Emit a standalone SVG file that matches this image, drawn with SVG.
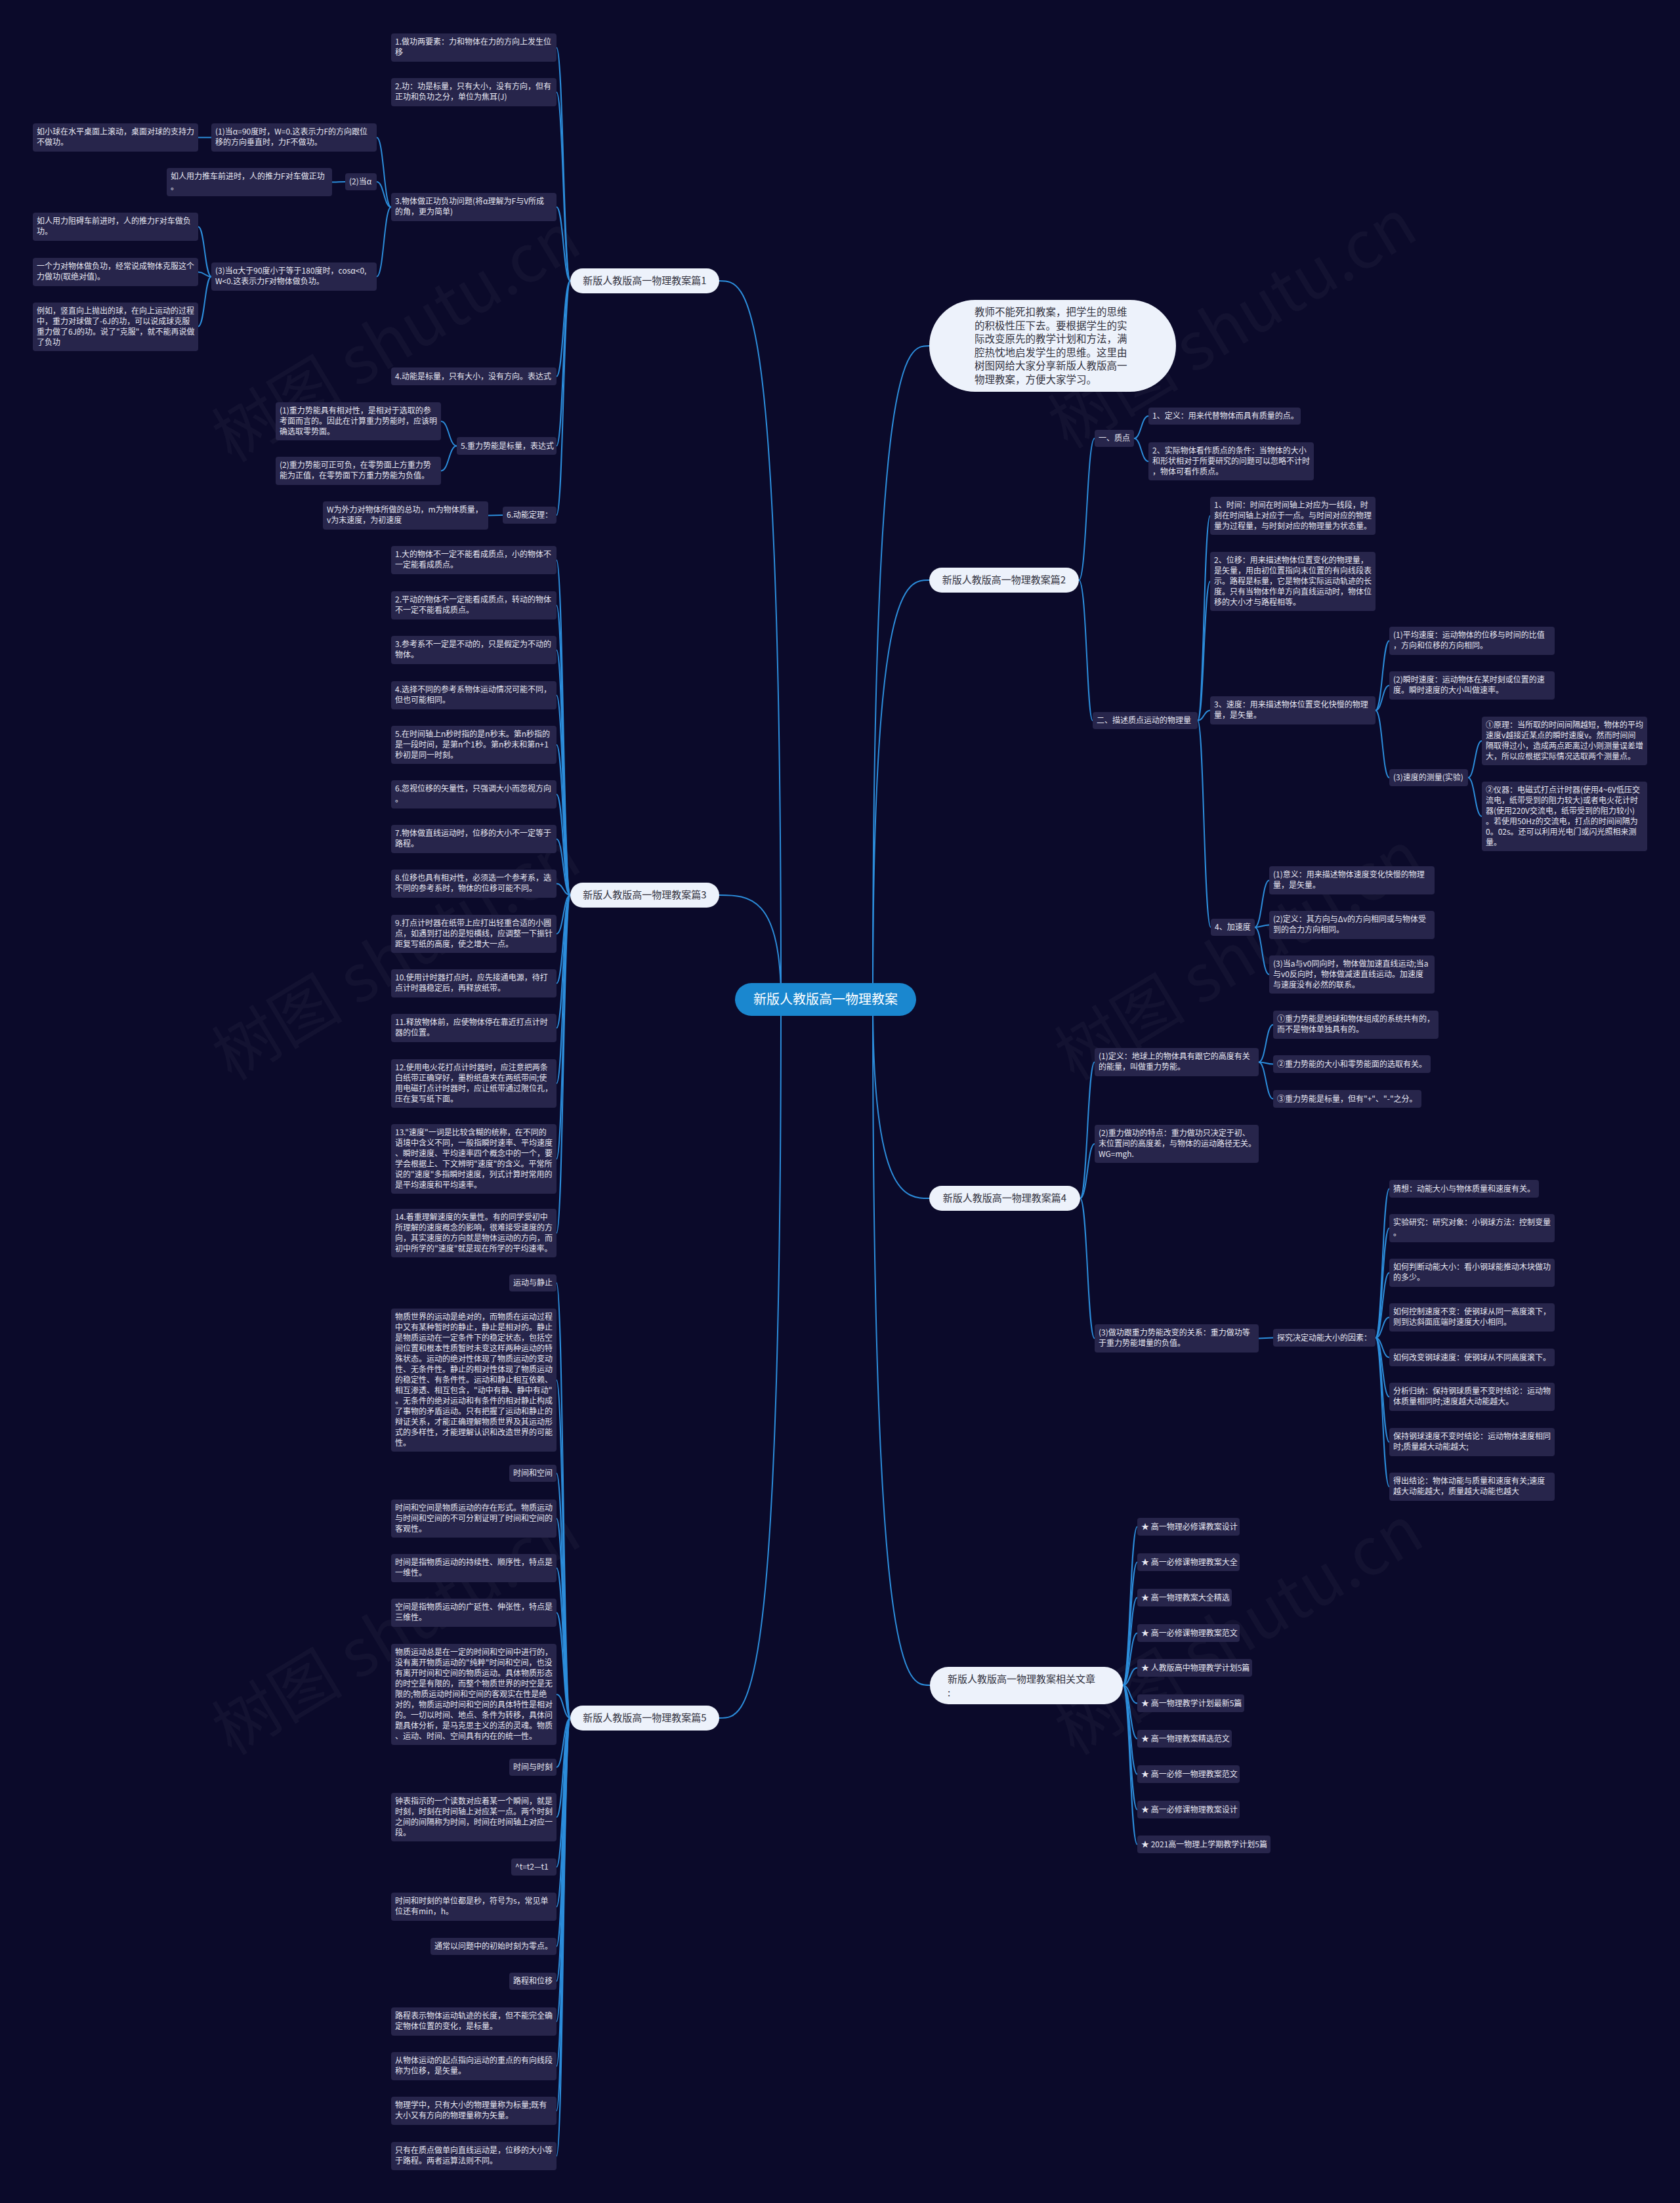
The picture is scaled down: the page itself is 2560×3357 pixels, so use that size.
<svg xmlns="http://www.w3.org/2000/svg" width="2560" height="3357" viewBox="0 0 2560 3357">
<style>
.bg{fill:#0b0a2a}
.b{fill:#27254b}
.t{font-family:"Noto Sans CJK SC","Noto Sans",sans-serif;font-size:12px;fill:#e8e8f2}
.n1{fill:#edf2fb}
.t1{font-family:"Noto Sans CJK SC","Noto Sans",sans-serif;font-size:15px;fill:#33333f}
.ct{font-family:"Noto Sans CJK SC","Noto Sans",sans-serif;font-size:20px;fill:#ffffff}
.c{fill:none;stroke:#2c8ddb;stroke-width:2}
.wm{font-family:"Noto Sans CJK SC","Liberation Serif",serif;font-size:100px;fill:#ffffff;fill-opacity:0.035}
</style>
<rect class="bg" x="0" y="0" width="2560" height="3357"/>
<g id="watermarks">
<text class="wm" x="353" y="706" transform="rotate(-31 353 706)">树图 shutu.cn</text>
<text class="wm" x="1627" y="685" transform="rotate(-31 1627 685)">树图 shutu.cn</text>
<text class="wm" x="353" y="1648" transform="rotate(-31 353 1648)">树图 shutu.cn</text>
<text class="wm" x="1637" y="1648" transform="rotate(-31 1637 1648)">树图 shutu.cn</text>
<text class="wm" x="353" y="2676" transform="rotate(-31 353 2676)">树图 shutu.cn</text>
<text class="wm" x="1637" y="2676" transform="rotate(-31 1637 2676)">树图 shutu.cn</text>
</g>
<g id="connectors">
<path class="c" d="M1190 1523 C1190 428 1140 428 1096 428"/>
<path class="c" d="M1190 1523 C1190 1364 1140 1364 1096 1364"/>
<path class="c" d="M1190 1523 C1190 2618 1140 2618 1096 2618"/>
<path class="c" d="M1330 1523 C1330 527 1380 527 1416 527"/>
<path class="c" d="M1330 1523 C1330 884 1380 884 1416 884"/>
<path class="c" d="M1330 1523 C1330 1826 1380 1826 1416 1826"/>
<path class="c" d="M1330 1523 C1330 2568 1380 2568 1417 2568"/>
<path class="c" d="M848 72.5 C858.5 72.5 858.5 428 869 428"/>
<path class="c" d="M848 140.5 C858.5 140.5 858.5 428 869 428"/>
<path class="c" d="M848 315.5 C858.5 315.5 858.5 428 869 428"/>
<path class="c" d="M848 573.5 C858.5 573.5 858.5 428 869 428"/>
<path class="c" d="M848 679.5 C858.5 679.5 858.5 428 869 428"/>
<path class="c" d="M848 785 C858.5 785 858.5 428 869 428"/>
<path class="c" d="M574 209.5 C585 209.5 585 315.5 596 315.5"/>
<path class="c" d="M574 277 C585 277 585 315.5 596 315.5"/>
<path class="c" d="M574 421.5 C585 421.5 585 315.5 596 315.5"/>
<path class="c" d="M302 209.5 L322 209.5"/>
<path class="c" d="M506 277.5 C516 277.5 516 277 526 277"/>
<path class="c" d="M302 345.5 C312 345.5 312 421.5 322 421.5"/>
<path class="c" d="M302 414.5 C312 414.5 312 421.5 322 421.5"/>
<path class="c" d="M302 497.5 C312 497.5 312 421.5 322 421.5"/>
<path class="c" d="M672 642 C684 642 684 679.5 696 679.5"/>
<path class="c" d="M672 717.5 C684 717.5 684 679.5 696 679.5"/>
<path class="c" d="M744 785.5 L766 785"/>
<path class="c" d="M848 853.5 C858.5 853.5 858.5 1364 869 1364"/>
<path class="c" d="M848 922.5 C858.5 922.5 858.5 1364 869 1364"/>
<path class="c" d="M848 990.5 C858.5 990.5 858.5 1364 869 1364"/>
<path class="c" d="M848 1059.5 C858.5 1059.5 858.5 1364 869 1364"/>
<path class="c" d="M848 1135 C858.5 1135 858.5 1364 869 1364"/>
<path class="c" d="M848 1210.5 C858.5 1210.5 858.5 1364 869 1364"/>
<path class="c" d="M848 1278.5 C858.5 1278.5 858.5 1364 869 1364"/>
<path class="c" d="M848 1346.5 C858.5 1346.5 858.5 1364 869 1364"/>
<path class="c" d="M848 1423 C858.5 1423 858.5 1364 869 1364"/>
<path class="c" d="M848 1498.5 C858.5 1498.5 858.5 1364 869 1364"/>
<path class="c" d="M848 1566.5 C858.5 1566.5 858.5 1364 869 1364"/>
<path class="c" d="M848 1651 C858.5 1651 858.5 1364 869 1364"/>
<path class="c" d="M848 1766 C858.5 1766 858.5 1364 869 1364"/>
<path class="c" d="M848 1879 C858.5 1879 858.5 1364 869 1364"/>
<path class="c" d="M848 1955 C858.5 1955 858.5 2618 869 2618"/>
<path class="c" d="M848 2103 C858.5 2103 858.5 2618 869 2618"/>
<path class="c" d="M848 2245 C858.5 2245 858.5 2618 869 2618"/>
<path class="c" d="M848 2314 C858.5 2314 858.5 2618 869 2618"/>
<path class="c" d="M848 2389.5 C858.5 2389.5 858.5 2618 869 2618"/>
<path class="c" d="M848 2457.5 C858.5 2457.5 858.5 2618 869 2618"/>
<path class="c" d="M848 2582 C858.5 2582 858.5 2618 869 2618"/>
<path class="c" d="M848 2693 C858.5 2693 858.5 2618 869 2618"/>
<path class="c" d="M848 2769 C858.5 2769 858.5 2618 869 2618"/>
<path class="c" d="M848 2845 C858.5 2845 858.5 2618 869 2618"/>
<path class="c" d="M848 2905.5 C858.5 2905.5 858.5 2618 869 2618"/>
<path class="c" d="M848 2966 C858.5 2966 858.5 2618 869 2618"/>
<path class="c" d="M848 3019 C858.5 3019 858.5 2618 869 2618"/>
<path class="c" d="M848 3080.5 C858.5 3080.5 858.5 2618 869 2618"/>
<path class="c" d="M848 3148.5 C858.5 3148.5 858.5 2618 869 2618"/>
<path class="c" d="M848 3216.5 C858.5 3216.5 858.5 2618 869 2618"/>
<path class="c" d="M848 3285.5 C858.5 3285.5 858.5 2618 869 2618"/>
<path class="c" d="M1644 884 C1656 884 1656 668 1668 668"/>
<path class="c" d="M1644 884 C1656 884 1656 1098 1665 1098"/>
<path class="c" d="M1728 668 C1739 668 1739 634 1750 634"/>
<path class="c" d="M1728 668 C1739 668 1739 703 1750 703"/>
<path class="c" d="M1825 1098 C1834.5 1098 1834.5 786 1844 786"/>
<path class="c" d="M1825 1098 C1834.5 1098 1834.5 886 1844 886"/>
<path class="c" d="M1825 1098 C1834.5 1098 1834.5 1082.5 1844 1082.5"/>
<path class="c" d="M1825 1098 C1834.5 1098 1834.5 1413 1845 1413"/>
<path class="c" d="M2096 1082.5 C2106.5 1082.5 2106.5 976.5 2117 976.5"/>
<path class="c" d="M2096 1082.5 C2106.5 1082.5 2106.5 1044.5 2117 1044.5"/>
<path class="c" d="M2096 1082.5 C2106.5 1082.5 2106.5 1185 2117 1185"/>
<path class="c" d="M2237 1185 C2247.5 1185 2247.5 1129 2258 1129"/>
<path class="c" d="M2237 1185 C2247.5 1185 2247.5 1244 2258 1244"/>
<path class="c" d="M1912 1413 C1923 1413 1923 1341.5 1934 1341.5"/>
<path class="c" d="M1912 1413 C1923 1413 1923 1409.5 1934 1409.5"/>
<path class="c" d="M1912 1413 C1923 1413 1923 1485 1934 1485"/>
<path class="c" d="M1646 1826 C1657 1826 1657 1618.5 1668 1618.5"/>
<path class="c" d="M1646 1826 C1657 1826 1657 1743 1668 1743"/>
<path class="c" d="M1646 1826 C1657 1826 1657 2039.5 1668 2039.5"/>
<path class="c" d="M1918 1618.5 C1929 1618.5 1929 1561.5 1940 1561.5"/>
<path class="c" d="M1918 1618.5 C1929 1618.5 1929 1621.5 1940 1621.5"/>
<path class="c" d="M1918 1618.5 C1929 1618.5 1929 1674.5 1940 1674.5"/>
<path class="c" d="M1918 2039.5 L1940 2038.5"/>
<path class="c" d="M2096 2038.5 C2106.5 2038.5 2106.5 1811.5 2117 1811.5"/>
<path class="c" d="M2096 2038.5 C2106.5 2038.5 2106.5 1871.5 2117 1871.5"/>
<path class="c" d="M2096 2038.5 C2106.5 2038.5 2106.5 1939.5 2117 1939.5"/>
<path class="c" d="M2096 2038.5 C2106.5 2038.5 2106.5 2007.5 2117 2007.5"/>
<path class="c" d="M2096 2038.5 C2106.5 2038.5 2106.5 2068.5 2117 2068.5"/>
<path class="c" d="M2096 2038.5 C2106.5 2038.5 2106.5 2128.5 2117 2128.5"/>
<path class="c" d="M2096 2038.5 C2106.5 2038.5 2106.5 2197.5 2117 2197.5"/>
<path class="c" d="M2096 2038.5 C2106.5 2038.5 2106.5 2265.5 2117 2265.5"/>
<path class="c" d="M1711 2568 C1722 2568 1722 2326.5 1733 2326.5"/>
<path class="c" d="M1711 2568 C1722 2568 1722 2380.5 1733 2380.5"/>
<path class="c" d="M1711 2568 C1722 2568 1722 2434.5 1733 2434.5"/>
<path class="c" d="M1711 2568 C1722 2568 1722 2488.5 1733 2488.5"/>
<path class="c" d="M1711 2568 C1722 2568 1722 2541.5 1733 2541.5"/>
<path class="c" d="M1711 2568 C1722 2568 1722 2595.5 1733 2595.5"/>
<path class="c" d="M1711 2568 C1722 2568 1722 2649.5 1733 2649.5"/>
<path class="c" d="M1711 2568 C1722 2568 1722 2703.5 1733 2703.5"/>
<path class="c" d="M1711 2568 C1722 2568 1722 2757.5 1733 2757.5"/>
<path class="c" d="M1711 2568 C1722 2568 1722 2810.5 1733 2810.5"/>
</g>

<g id="center"><rect x="1120" y="1498" width="276" height="50" rx="25" fill="#1a87cf"/><text class="ct" x="1258" y="1530" text-anchor="middle">新版人教版高一物理教案</text></g>

<g id="p1"><rect class="n1" x="869" y="409" width="227" height="38" rx="19"/><text class="t1" x="982.5" y="433" text-anchor="middle">新版人教版高一物理教案篇1</text></g>
<g id="p1c1"><rect class="b" x="596" y="51" width="252" height="43" rx="4"/><text class="t"><tspan x="602" y="68">1.做功两要素：力和物体在力的方向上发生位</tspan><tspan x="602" y="84">移</tspan></text></g>
<g id="p1c2"><rect class="b" x="596" y="119" width="252" height="43" rx="4"/><text class="t"><tspan x="602" y="136">2.功：功是标量，只有大小，没有方向，但有</tspan><tspan x="602" y="152">正功和负功之分，单位为焦耳(J)</tspan></text></g>
<g id="p1c3"><rect class="b" x="596" y="294" width="252" height="43" rx="4"/><text class="t"><tspan x="602" y="311">3.物体做正功负功问题(将α理解为F与V所成</tspan><tspan x="602" y="327">的角，更为简单)</tspan></text></g>
<g id="p1c4"><rect class="b" x="596" y="560" width="252" height="27" rx="4"/><text class="t"><tspan x="602" y="578">4.动能是标量，只有大小，没有方向。表达式</tspan></text></g>
<g id="p1c5"><rect class="b" x="696" y="666" width="152" height="27" rx="4"/><text class="t"><tspan x="702" y="684">5.重力势能是标量，表达式</tspan></text></g>
<g id="p1c6"><rect class="b" x="766" y="772" width="82" height="26" rx="4"/><text class="t"><tspan x="772" y="789">6.动能定理：</tspan></text></g>
<g id="g31"><rect class="b" x="322" y="188" width="252" height="43" rx="4"/><text class="t"><tspan x="328" y="205">(1)当α=90度时，W=0.这表示力F的方向跟位</tspan><tspan x="328" y="221">移的方向垂直时，力F不做功。</tspan></text></g>
<g id="g32"><rect class="b" x="526" y="264" width="48" height="26" rx="4"/><text class="t"><tspan x="532" y="281">(2)当α</tspan></text></g>
<g id="g33"><rect class="b" x="322" y="400" width="252" height="43" rx="4"/><text class="t"><tspan x="328" y="417">(3)当α大于90度小于等于180度时，cosα&lt;0,</tspan><tspan x="328" y="433">W&lt;0.这表示力F对物体做负功。</tspan></text></g>
<g id="g311"><rect class="b" x="50" y="188" width="252" height="43" rx="4"/><text class="t"><tspan x="56" y="205">如小球在水平桌面上滚动，桌面对球的支持力</tspan><tspan x="56" y="221">不做功。</tspan></text></g>
<g id="g321"><rect class="b" x="254" y="256" width="252" height="43" rx="4"/><text class="t"><tspan x="260" y="273">如人用力推车前进时，人的推力F对车做正功</tspan><tspan x="260" y="289">。</tspan></text></g>
<g id="g331"><rect class="b" x="50" y="324" width="252" height="43" rx="4"/><text class="t"><tspan x="56" y="341">如人用力阻碍车前进时，人的推力F对车做负</tspan><tspan x="56" y="357">功。</tspan></text></g>
<g id="g332"><rect class="b" x="50" y="393" width="252" height="43" rx="4"/><text class="t"><tspan x="56" y="410">一个力对物体做负功，经常说成物体克服这个</tspan><tspan x="56" y="426">力做功(取绝对值)。</tspan></text></g>
<g id="g333"><rect class="b" x="50" y="461" width="252" height="74" rx="4"/><text class="t"><tspan x="56" y="478">例如，竖直向上抛出的球，在向上运动的过程</tspan><tspan x="56" y="494">中，重力对球做了-6J的功，可以说成球克服</tspan><tspan x="56" y="510">重力做了6J的功。说了"克服"，就不能再说做</tspan><tspan x="56" y="526">了负功</tspan></text></g>
<g id="g51"><rect class="b" x="420" y="613" width="252" height="58" rx="4"/><text class="t"><tspan x="426" y="630">(1)重力势能具有相对性，是相对于选取的参</tspan><tspan x="426" y="646">考面而言的。因此在计算重力势能时，应该明</tspan><tspan x="426" y="662">确选取零势面。</tspan></text></g>
<g id="g52"><rect class="b" x="420" y="696" width="252" height="43" rx="4"/><text class="t"><tspan x="426" y="713">(2)重力势能可正可负，在零势面上方重力势</tspan><tspan x="426" y="729">能为正值，在零势面下方重力势能为负值。</tspan></text></g>
<g id="g61"><rect class="b" x="492" y="764" width="252" height="43" rx="4"/><text class="t"><tspan x="498" y="781">W为外力对物体所做的总功，m为物体质量，</tspan><tspan x="498" y="797">v为末速度，为初速度</tspan></text></g>

<g id="p3"><rect class="n1" x="869" y="1345" width="227" height="38" rx="19"/><text class="t1" x="982.5" y="1369" text-anchor="middle">新版人教版高一物理教案篇3</text></g>
<g id="p3c1"><rect class="b" x="596" y="832" width="252" height="43" rx="4"/><text class="t"><tspan x="602" y="849">1.大的物体不一定不能看成质点，小的物体不</tspan><tspan x="602" y="865">一定能看成质点。</tspan></text></g>
<g id="p3c2"><rect class="b" x="596" y="901" width="252" height="43" rx="4"/><text class="t"><tspan x="602" y="918">2.平动的物体不一定能看成质点，转动的物体</tspan><tspan x="602" y="934">不一定不能看成质点。</tspan></text></g>
<g id="p3c3"><rect class="b" x="596" y="969" width="252" height="43" rx="4"/><text class="t"><tspan x="602" y="986">3.参考系不一定是不动的，只是假定为不动的</tspan><tspan x="602" y="1002">物体。</tspan></text></g>
<g id="p3c4"><rect class="b" x="596" y="1038" width="252" height="43" rx="4"/><text class="t"><tspan x="602" y="1055">4.选择不同的参考系物体运动情况可能不同，</tspan><tspan x="602" y="1071">但也可能相同。</tspan></text></g>
<g id="p3c5"><rect class="b" x="596" y="1106" width="252" height="58" rx="4"/><text class="t"><tspan x="602" y="1123">5.在时间轴上n秒时指的是n秒末。第n秒指的</tspan><tspan x="602" y="1139">是一段时间，是第n个1秒。第n秒末和第n+1</tspan><tspan x="602" y="1155">秒初是同一时刻。</tspan></text></g>
<g id="p3c6"><rect class="b" x="596" y="1189" width="252" height="43" rx="4"/><text class="t"><tspan x="602" y="1206">6.忽视位移的矢量性，只强调大小而忽视方向</tspan><tspan x="602" y="1222">。</tspan></text></g>
<g id="p3c7"><rect class="b" x="596" y="1257" width="252" height="43" rx="4"/><text class="t"><tspan x="602" y="1274">7.物体做直线运动时，位移的大小不一定等于</tspan><tspan x="602" y="1290">路程。</tspan></text></g>
<g id="p3c8"><rect class="b" x="596" y="1325" width="252" height="43" rx="4"/><text class="t"><tspan x="602" y="1342">8.位移也具有相对性，必须选一个参考系，选</tspan><tspan x="602" y="1358">不同的参考系时，物体的位移可能不同。</tspan></text></g>
<g id="p3c9"><rect class="b" x="596" y="1394" width="252" height="58" rx="4"/><text class="t"><tspan x="602" y="1411">9.打点计时器在纸带上应打出轻重合适的小圆</tspan><tspan x="602" y="1427">点，如遇到打出的是短横线，应调整一下振针</tspan><tspan x="602" y="1443">距复写纸的高度，使之增大一点。</tspan></text></g>
<g id="p3c10"><rect class="b" x="596" y="1477" width="252" height="43" rx="4"/><text class="t"><tspan x="602" y="1494">10.使用计时器打点时，应先接通电源，待打</tspan><tspan x="602" y="1510">点计时器稳定后，再释放纸带。</tspan></text></g>
<g id="p3c11"><rect class="b" x="596" y="1545" width="252" height="43" rx="4"/><text class="t"><tspan x="602" y="1562">11.释放物体前，应使物体停在靠近打点计时</tspan><tspan x="602" y="1578">器的位置。</tspan></text></g>
<g id="p3c12"><rect class="b" x="596" y="1614" width="252" height="74" rx="4"/><text class="t"><tspan x="602" y="1631">12.使用电火花打点计时器时，应注意把两条</tspan><tspan x="602" y="1647">白纸带正确穿好，墨粉纸盘夹在两纸带间;使</tspan><tspan x="602" y="1663">用电磁打点计时器时，应让纸带通过限位孔，</tspan><tspan x="602" y="1679">压在复写纸下面。</tspan></text></g>
<g id="p3c13"><rect class="b" x="596" y="1713" width="252" height="106" rx="4"/><text class="t"><tspan x="602" y="1730">13."速度"一词是比较含糊的统称，在不同的</tspan><tspan x="602" y="1746">语境中含义不同，一般指瞬时速率、平均速度</tspan><tspan x="602" y="1762">、瞬时速度、平均速率四个概念中的一个，要</tspan><tspan x="602" y="1778">学会根据上、下文辨明"速度"的含义。平常所</tspan><tspan x="602" y="1794">说的"速度"多指瞬时速度，列式计算时常用的</tspan><tspan x="602" y="1810">是平均速度和平均速率。</tspan></text></g>
<g id="p3c14"><rect class="b" x="596" y="1842" width="252" height="74" rx="4"/><text class="t"><tspan x="602" y="1859">14.着重理解速度的矢量性。有的同学受初中</tspan><tspan x="602" y="1875">所理解的速度概念的影响，很难接受速度的方</tspan><tspan x="602" y="1891">向，其实速度的方向就是物体运动的方向，而</tspan><tspan x="602" y="1907">初中所学的"速度"就是现在所学的平均速率。</tspan></text></g>

<g id="p5"><rect class="n1" x="869" y="2599" width="227" height="38" rx="19"/><text class="t1" x="982.5" y="2623" text-anchor="middle">新版人教版高一物理教案篇5</text></g>
<g id="p5a"><rect class="b" x="776" y="1942" width="72" height="26" rx="4"/><text class="t"><tspan x="782" y="1959">运动与静止</tspan></text></g>
<g id="p5b"><rect class="b" x="596" y="1994" width="252" height="218" rx="4"/><text class="t"><tspan x="602" y="2011">物质世界的运动是绝对的，而物质在运动过程</tspan><tspan x="602" y="2027">中又有某种暂时的静止，静止是相对的。静止</tspan><tspan x="602" y="2043">是物质运动在一定条件下的稳定状态，包括空</tspan><tspan x="602" y="2059">间位置和根本性质暂时未变这样两种运动的特</tspan><tspan x="602" y="2075">殊状态。运动的绝对性体现了物质运动的变动</tspan><tspan x="602" y="2091">性、无条件性。静止的相对性体现了物质运动</tspan><tspan x="602" y="2107">的稳定性、有条件性。运动和静止相互依赖、</tspan><tspan x="602" y="2123">相互渗透、相互包含，"动中有静、静中有动"</tspan><tspan x="602" y="2139">。无条件的绝对运动和有条件的相对静止构成</tspan><tspan x="602" y="2155">了事物的矛盾运动。只有把握了运动和静止的</tspan><tspan x="602" y="2171">辩证关系，才能正确理解物质世界及其运动形</tspan><tspan x="602" y="2187">式的多样性，才能理解认识和改造世界的可能</tspan><tspan x="602" y="2203">性。</tspan></text></g>
<g id="p5c"><rect class="b" x="776" y="2232" width="72" height="26" rx="4"/><text class="t"><tspan x="782" y="2249">时间和空间</tspan></text></g>
<g id="p5d"><rect class="b" x="596" y="2285" width="252" height="58" rx="4"/><text class="t"><tspan x="602" y="2302">时间和空间是物质运动的存在形式。物质运动</tspan><tspan x="602" y="2318">与时间和空间的不可分割证明了时间和空间的</tspan><tspan x="602" y="2334">客观性。</tspan></text></g>
<g id="p5e"><rect class="b" x="596" y="2368" width="252" height="43" rx="4"/><text class="t"><tspan x="602" y="2385">时间是指物质运动的持续性、顺序性，特点是</tspan><tspan x="602" y="2401">一维性。</tspan></text></g>
<g id="p5f"><rect class="b" x="596" y="2436" width="252" height="43" rx="4"/><text class="t"><tspan x="602" y="2453">空间是指物质运动的广延性、伸张性，特点是</tspan><tspan x="602" y="2469">三维性。</tspan></text></g>
<g id="p5g"><rect class="b" x="596" y="2505" width="252" height="154" rx="4"/><text class="t"><tspan x="602" y="2522">物质运动总是在一定的时间和空间中进行的，</tspan><tspan x="602" y="2538">没有离开物质运动的"纯粹"时间和空间，也没</tspan><tspan x="602" y="2554">有离开时间和空间的物质运动。具体物质形态</tspan><tspan x="602" y="2570">的时空是有限的，而整个物质世界的时空是无</tspan><tspan x="602" y="2586">限的;物质运动时间和空间的客观实在性是绝</tspan><tspan x="602" y="2602">对的，物质运动时间和空间的具体特性是相对</tspan><tspan x="602" y="2618">的。一切以时间、地点、条件为转移，具体问</tspan><tspan x="602" y="2634">题具体分析，是马克思主义的活的灵魂。物质</tspan><tspan x="602" y="2650">、运动、时间、空间具有内在的统一性。</tspan></text></g>
<g id="p5h"><rect class="b" x="776" y="2680" width="72" height="26" rx="4"/><text class="t"><tspan x="782" y="2697">时间与时刻</tspan></text></g>
<g id="p5i"><rect class="b" x="596" y="2732" width="252" height="74" rx="4"/><text class="t"><tspan x="602" y="2749">钟表指示的一个读数对应着某一个瞬间，就是</tspan><tspan x="602" y="2765">时刻，时刻在时间轴上对应某一点。两个时刻</tspan><tspan x="602" y="2781">之间的间隔称为时间，时间在时间轴上对应一</tspan><tspan x="602" y="2797">段。</tspan></text></g>
<g id="p5j"><rect class="b" x="779" y="2832" width="69" height="26" rx="4"/><text class="t"><tspan x="785" y="2849">^t=t2—t1</tspan></text></g>
<g id="p5k"><rect class="b" x="596" y="2884" width="252" height="43" rx="4"/><text class="t"><tspan x="602" y="2901">时间和时刻的单位都是秒，符号为s，常见单</tspan><tspan x="602" y="2917">位还有min，h。</tspan></text></g>
<g id="p5l"><rect class="b" x="656" y="2953" width="192" height="26" rx="4"/><text class="t"><tspan x="662" y="2970">通常以问题中的初始时刻为零点。</tspan></text></g>
<g id="p5m"><rect class="b" x="776" y="3006" width="72" height="26" rx="4"/><text class="t"><tspan x="782" y="3023">路程和位移</tspan></text></g>
<g id="p5n"><rect class="b" x="596" y="3059" width="252" height="43" rx="4"/><text class="t"><tspan x="602" y="3076">路程表示物体运动轨迹的长度，但不能完全确</tspan><tspan x="602" y="3092">定物体位置的变化，是标量。</tspan></text></g>
<g id="p5o"><rect class="b" x="596" y="3127" width="252" height="43" rx="4"/><text class="t"><tspan x="602" y="3144">从物体运动的起点指向运动的重点的有向线段</tspan><tspan x="602" y="3160">称为位移，是矢量。</tspan></text></g>
<g id="p5p"><rect class="b" x="596" y="3195" width="252" height="43" rx="4"/><text class="t"><tspan x="602" y="3212">物理学中，只有大小的物理量称为标量;既有</tspan><tspan x="602" y="3228">大小又有方向的物理量称为矢量。</tspan></text></g>
<g id="p5q"><rect class="b" x="596" y="3264" width="252" height="43" rx="4"/><text class="t"><tspan x="602" y="3281">只有在质点做单向直线运动是，位移的大小等</tspan><tspan x="602" y="3297">于路程。两者运算法则不同。</tspan></text></g>

<g id="intro"><rect class="n1" x="1416" y="457" width="376" height="140" rx="70"/><text class="t1" style="font-size:15.5px"><tspan x="1485" y="481">教师不能死扣教案，把学生的思维</tspan><tspan x="1485" y="501.5">的积极性压下去。要根据学生的实</tspan><tspan x="1485" y="522">际改变原先的教学计划和方法，满</tspan><tspan x="1485" y="542.5">腔热忱地启发学生的思维。这里由</tspan><tspan x="1485" y="563">树图网给大家分享新版人教版高一</tspan><tspan x="1485" y="583.5">物理教案，方便大家学习。</tspan></text></g>

<g id="p2"><rect class="n1" x="1416" y="865" width="228" height="38" rx="19"/><text class="t1" x="1530" y="889" text-anchor="middle">新版人教版高一物理教案篇2</text></g>
<g id="zhi"><rect class="b" x="1668" y="655" width="60" height="26" rx="4"/><text class="t"><tspan x="1674" y="672">一、质点</tspan></text></g>
<g id="zd1"><rect class="b" x="1750" y="621" width="232" height="26" rx="4"/><text class="t"><tspan x="1756" y="638">1、定义：用来代替物体而具有质量的点。</tspan></text></g>
<g id="zd2"><rect class="b" x="1750" y="674" width="252" height="58" rx="4"/><text class="t"><tspan x="1756" y="691">2、实际物体看作质点的条件：当物体的大小</tspan><tspan x="1756" y="707">和形状相对于所要研究的问题可以忽略不计时</tspan><tspan x="1756" y="723">，物体可看作质点。</tspan></text></g>
<g id="er"><rect class="b" x="1665" y="1085" width="160" height="26" rx="4"/><text class="t"><tspan x="1671" y="1102">二、描述质点运动的物理量</tspan></text></g>
<g id="s1"><rect class="b" x="1844" y="757" width="252" height="58" rx="4"/><text class="t"><tspan x="1850" y="774">1、时间：时间在时间轴上对应为一线段，时</tspan><tspan x="1850" y="790">刻在时间轴上对应于一点。与时间对应的物理</tspan><tspan x="1850" y="806">量为过程量，与时刻对应的物理量为状态量。</tspan></text></g>
<g id="s2"><rect class="b" x="1844" y="841" width="252" height="90" rx="4"/><text class="t"><tspan x="1850" y="858">2、位移：用来描述物体位置变化的物理量，</tspan><tspan x="1850" y="874">是矢量，用由初位置指向末位置的有向线段表</tspan><tspan x="1850" y="890">示。路程是标量，它是物体实际运动轨迹的长</tspan><tspan x="1850" y="906">度。只有当物体作单方向直线运动时，物体位</tspan><tspan x="1850" y="922">移的大小才与路程相等。</tspan></text></g>
<g id="s3"><rect class="b" x="1844" y="1061" width="252" height="43" rx="4"/><text class="t"><tspan x="1850" y="1078">3、速度：用来描述物体位置变化快慢的物理</tspan><tspan x="1850" y="1094">量，是矢量。</tspan></text></g>
<g id="v1"><rect class="b" x="2117" y="955" width="252" height="43" rx="4"/><text class="t"><tspan x="2123" y="972">(1)平均速度：运动物体的位移与时间的比值</tspan><tspan x="2123" y="988">，方向和位移的方向相同。</tspan></text></g>
<g id="v2"><rect class="b" x="2117" y="1023" width="252" height="43" rx="4"/><text class="t"><tspan x="2123" y="1040">(2)瞬时速度：运动物体在某时刻或位置的速</tspan><tspan x="2123" y="1056">度。瞬时速度的大小叫做速率。</tspan></text></g>
<g id="v3"><rect class="b" x="2117" y="1172" width="120" height="26" rx="4"/><text class="t"><tspan x="2123" y="1189">(3)速度的测量(实验)</tspan></text></g>
<g id="m1"><rect class="b" x="2258" y="1092" width="252" height="74" rx="4"/><text class="t"><tspan x="2264" y="1109">①原理：当所取的时间间隔越短，物体的平均</tspan><tspan x="2264" y="1125">速度v越接近某点的瞬时速度v。然而时间间</tspan><tspan x="2264" y="1141">隔取得过小，造成两点距离过小则测量误差增</tspan><tspan x="2264" y="1157">大，所以应根据实际情况选取两个测量点。</tspan></text></g>
<g id="m2"><rect class="b" x="2258" y="1191" width="252" height="106" rx="4"/><text class="t"><tspan x="2264" y="1208">②仪器：电磁式打点计时器(使用4~6V低压交</tspan><tspan x="2264" y="1224">流电，纸带受到的阻力较大)或者电火花计时</tspan><tspan x="2264" y="1240">器(使用220V交流电，纸带受到的阻力较小)</tspan><tspan x="2264" y="1256">。若使用50Hz的交流电，打点的时间间隔为</tspan><tspan x="2264" y="1272">0。02s。还可以利用光电门或闪光照相来测</tspan><tspan x="2264" y="1288">量。</tspan></text></g>
<g id="s4"><rect class="b" x="1845" y="1400" width="67" height="26" rx="4"/><text class="t"><tspan x="1851" y="1417">4、加速度</tspan></text></g>
<g id="a1"><rect class="b" x="1934" y="1320" width="252" height="43" rx="4"/><text class="t"><tspan x="1940" y="1337">(1)意义：用来描述物体速度变化快慢的物理</tspan><tspan x="1940" y="1353">量，是矢量。</tspan></text></g>
<g id="a2"><rect class="b" x="1934" y="1388" width="252" height="43" rx="4"/><text class="t"><tspan x="1940" y="1405">(2)定义：其方向与Δv的方向相同或与物体受</tspan><tspan x="1940" y="1421">到的合力方向相同。</tspan></text></g>
<g id="a3"><rect class="b" x="1934" y="1456" width="252" height="58" rx="4"/><text class="t"><tspan x="1940" y="1473">(3)当a与v0同向时，物体做加速直线运动;当a</tspan><tspan x="1940" y="1489">与v0反向时，物体做减速直线运动。加速度</tspan><tspan x="1940" y="1505">与速度没有必然的联系。</tspan></text></g>

<g id="p4"><rect class="n1" x="1416" y="1807" width="230" height="38" rx="19"/><text class="t1" x="1531" y="1831" text-anchor="middle">新版人教版高一物理教案篇4</text></g>
<g id="e1"><rect class="b" x="1668" y="1597" width="250" height="43" rx="4"/><text class="t"><tspan x="1674" y="1614">(1)定义：地球上的物体具有跟它的高度有关</tspan><tspan x="1674" y="1630">的能量，叫做重力势能。</tspan></text></g>
<g id="e11"><rect class="b" x="1940" y="1540" width="252" height="43" rx="4"/><text class="t"><tspan x="1946" y="1557">①重力势能是地球和物体组成的系统共有的，</tspan><tspan x="1946" y="1573">而不是物体单独具有的。</tspan></text></g>
<g id="e12"><rect class="b" x="1940" y="1608" width="240" height="27" rx="4"/><text class="t"><tspan x="1946" y="1626">②重力势能的大小和零势能面的选取有关。</tspan></text></g>
<g id="e13"><rect class="b" x="1940" y="1661" width="226" height="27" rx="4"/><text class="t"><tspan x="1946" y="1679">③重力势能是标量，但有"+"、"-"之分。</tspan></text></g>
<g id="e2"><rect class="b" x="1668" y="1714" width="250" height="58" rx="4"/><text class="t"><tspan x="1674" y="1731">(2)重力做功的特点：重力做功只决定于初、</tspan><tspan x="1674" y="1747">末位置间的高度差，与物体的运动路径无关。</tspan><tspan x="1674" y="1763">WG=mgh.</tspan></text></g>
<g id="e3"><rect class="b" x="1668" y="2018" width="250" height="43" rx="4"/><text class="t"><tspan x="1674" y="2035">(3)做功跟重力势能改变的关系：重力做功等</tspan><tspan x="1674" y="2051">于重力势能增量的负值。</tspan></text></g>
<g id="e31"><rect class="b" x="1940" y="2025" width="156" height="27" rx="4"/><text class="t"><tspan x="1946" y="2043">探究决定动能大小的因素：</tspan></text></g>
<g id="k1"><rect class="b" x="2117" y="1798" width="228" height="27" rx="4"/><text class="t"><tspan x="2123" y="1816">猜想：动能大小与物体质量和速度有关。</tspan></text></g>
<g id="k2"><rect class="b" x="2117" y="1850" width="252" height="43" rx="4"/><text class="t"><tspan x="2123" y="1867">实验研究：研究对象：小钢球方法：控制变量</tspan><tspan x="2123" y="1883">。</tspan></text></g>
<g id="k3"><rect class="b" x="2117" y="1918" width="252" height="43" rx="4"/><text class="t"><tspan x="2123" y="1935">如何判断动能大小：看小钢球能推动木块做功</tspan><tspan x="2123" y="1951">的多少。</tspan></text></g>
<g id="k4"><rect class="b" x="2117" y="1986" width="252" height="43" rx="4"/><text class="t"><tspan x="2123" y="2003">如何控制速度不变：使钢球从同一高度滚下，</tspan><tspan x="2123" y="2019">则到达斜面底端时速度大小相同。</tspan></text></g>
<g id="k5"><rect class="b" x="2117" y="2055" width="252" height="27" rx="4"/><text class="t"><tspan x="2123" y="2073">如何改变钢球速度：使钢球从不同高度滚下。</tspan></text></g>
<g id="k6"><rect class="b" x="2117" y="2107" width="252" height="43" rx="4"/><text class="t"><tspan x="2123" y="2124">分析归纳：保持钢球质量不变时结论：运动物</tspan><tspan x="2123" y="2140">体质量相同时;速度越大动能越大。</tspan></text></g>
<g id="k7"><rect class="b" x="2117" y="2176" width="252" height="43" rx="4"/><text class="t"><tspan x="2123" y="2193">保持钢球速度不变时结论：运动物体速度相同</tspan><tspan x="2123" y="2209">时;质量越大动能越大;</tspan></text></g>
<g id="k8"><rect class="b" x="2117" y="2244" width="252" height="43" rx="4"/><text class="t"><tspan x="2123" y="2261">得出结论：物体动能与质量和速度有关;速度</tspan><tspan x="2123" y="2277">越大动能越大，质量越大动能也越大</tspan></text></g>

<g id="rel"><rect class="n1" x="1417" y="2540" width="294" height="57" rx="28"/><text class="t1"><tspan x="1444" y="2564">新版人教版高一物理教案相关文章</tspan><tspan x="1444" y="2585">:</tspan></text></g>
<g id="r1"><rect class="b" x="1733" y="2313" width="156" height="27" rx="4"/><text class="t"><tspan x="1739" y="2331">★ 高一物理必修课教案设计</tspan></text></g>
<g id="r2"><rect class="b" x="1733" y="2367" width="156" height="27" rx="4"/><text class="t"><tspan x="1739" y="2385">★ 高一必修课物理教案大全</tspan></text></g>
<g id="r3"><rect class="b" x="1733" y="2421" width="144" height="27" rx="4"/><text class="t"><tspan x="1739" y="2439">★ 高一物理教案大全精选</tspan></text></g>
<g id="r4"><rect class="b" x="1733" y="2475" width="156" height="27" rx="4"/><text class="t"><tspan x="1739" y="2493">★ 高一必修课物理教案范文</tspan></text></g>
<g id="r5"><rect class="b" x="1733" y="2528" width="175" height="27" rx="4"/><text class="t"><tspan x="1739" y="2546">★ 人教版高中物理教学计划5篇</tspan></text></g>
<g id="r6"><rect class="b" x="1733" y="2582" width="163" height="27" rx="4"/><text class="t"><tspan x="1739" y="2600">★ 高一物理教学计划最新5篇</tspan></text></g>
<g id="r7"><rect class="b" x="1733" y="2636" width="144" height="27" rx="4"/><text class="t"><tspan x="1739" y="2654">★ 高一物理教案精选范文</tspan></text></g>
<g id="r8"><rect class="b" x="1733" y="2690" width="156" height="27" rx="4"/><text class="t"><tspan x="1739" y="2708">★ 高一必修一物理教案范文</tspan></text></g>
<g id="r9"><rect class="b" x="1733" y="2744" width="156" height="27" rx="4"/><text class="t"><tspan x="1739" y="2762">★ 高一必修课物理教案设计</tspan></text></g>
<g id="r10"><rect class="b" x="1733" y="2797" width="203" height="27" rx="4"/><text class="t"><tspan x="1739" y="2815">★ 2021高一物理上学期教学计划5篇</tspan></text></g>
</svg>
